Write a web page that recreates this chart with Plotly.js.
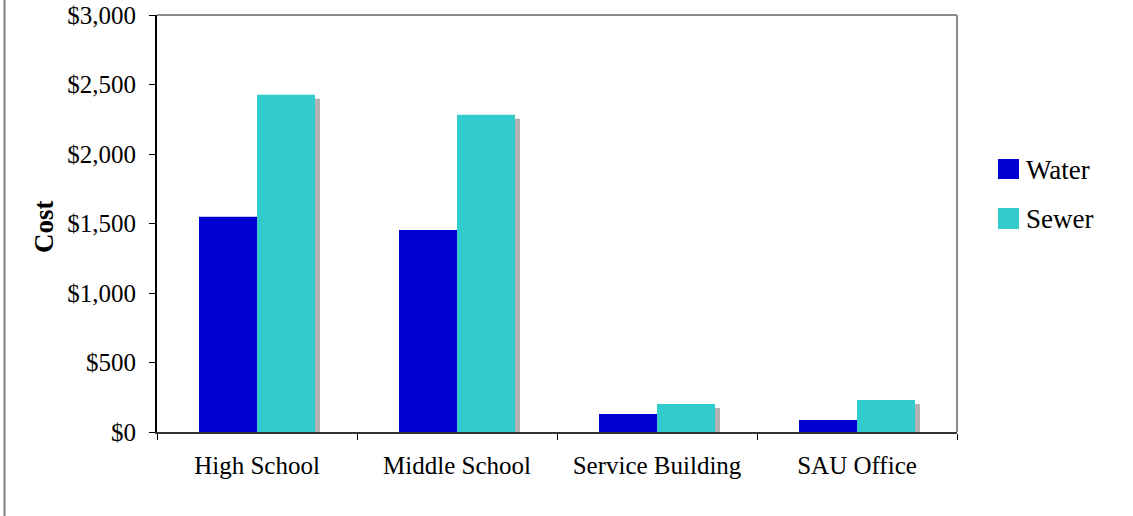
<!DOCTYPE html>
<html>
<head>
<meta charset="utf-8">
<script src="https://cdn.plot.ly/plotly-3.0.1.min.js"></script>
<style>html,body{margin:0;padding:0;background:#fff;}#chart{width:1133px;height:516px;}</style>
</head>
<body>
<div id="chart"></div>
<script>
const categories = ["High School", "Middle School", "Service Building", "SAU Office"];
const water = [1548, 1454, 130, 86];
const sewer = [2426, 2282, 202, 230];
const seriesNames = ["Water", "Sewer"];
const yTitle = "Cost";
const yTickVals = [0, 500, 1000, 1500, 2000, 2500, 3000];
const yTickText = ["$0", "$500", "$1,000", "$1,500", "$2,000", "$2,500", "$3,000"];

const waterColor = "#0000D0";
const sewerColor = "#33CCCC";
const shadowColor = "#B3B3B3";
const font = "Liberation Serif, Times New Roman, serif";

const barW = 0.29;
const shadowDX = 0.025;
const shadowDY = -29;

const traces = [
  {type: "bar", x: categories, y: sewer, base: shadowDY, offset: shadowDX, width: barW,
   marker: {color: shadowColor}, showlegend: false, hoverinfo: "skip"},
  {type: "bar", name: seriesNames[0], x: categories, y: water, offset: -barW, width: barW,
   marker: {color: waterColor}, showlegend: false},
  {type: "bar", name: seriesNames[1], x: categories, y: sewer, offset: 0, width: barW,
   marker: {color: sewerColor}, showlegend: false}
];

function py(p){ return (432 - p) / 417; }
function px(p){ return (p - 157) / 800; }

const layout = {
  width: 1133, height: 516,
  margin: {l: 157, r: 176, t: 15, b: 84, pad: 0},
  paper_bgcolor: "#fff", plot_bgcolor: "#fff",
  barmode: "overlay",
  showlegend: false,
  font: {family: font, size: 25, color: "#000"},
  xaxis: {
    type: "category", range: [-0.5, 3.5], showgrid: false, zeroline: false,
    showline: true, linecolor: "#333", linewidth: 2,
    ticks: "outside", tickson: "boundaries", ticklen: 6, tickcolor: "#000", tickwidth: 1,
    ticklabelstandoff: 10,
    tickfont: {family: font, size: 25, color: "#000"}
  },
  yaxis: {
    range: [0, 3000], showgrid: false, zeroline: false,
    showline: true, linecolor: "#000", linewidth: 2,
    ticks: "outside", ticklen: 6, tickcolor: "#000", tickwidth: 1,
    ticklabelstandoff: 8,
    tickvals: yTickVals, ticktext: yTickText,
    tickfont: {family: font, size: 25, color: "#000"}
  },
  shapes: [
    {type: "line", xref: "paper", yref: "paper", x0: 0, x1: 1, y0: 1, y1: 1, line: {color: "#8C8C8C", width: 2}},
    {type: "line", xref: "paper", yref: "paper", x0: 1, x1: 1, y0: 0, y1: 1, line: {color: "#8C8C8C", width: 2}},
    {type: "line", xref: "paper", yref: "paper", x0: px(4.5), x1: px(4.5), y0: py(-5), y1: py(520), line: {color: "#808080", width: 2}},
    {type: "rect", xref: "paper", yref: "paper", x0: px(998), x1: px(1019), y0: py(179), y1: py(159), fillcolor: waterColor, line: {width: 0}},
    {type: "rect", xref: "paper", yref: "paper", x0: px(998), x1: px(1019), y0: py(229), y1: py(208), fillcolor: sewerColor, line: {width: 0}}
  ],
  annotations: [
    {xref: "paper", yref: "paper", x: px(1024), y: py(170), xanchor: "left", yanchor: "middle", showarrow: false,
     text: seriesNames[0], font: {family: font, size: 27, color: "#000"}},
    {xref: "paper", yref: "paper", x: px(1024), y: py(219), xanchor: "left", yanchor: "middle", showarrow: false,
     text: seriesNames[1], font: {family: font, size: 27, color: "#000"}},
    {xref: "paper", yref: "paper", x: px(44), y: py(227), xanchor: "center", yanchor: "middle", showarrow: false,
     textangle: -90, text: "<b>" + yTitle + "</b>", font: {family: font, size: 27, color: "#000"}}
  ]
};

Plotly.newPlot("chart", traces, layout, {displayModeBar: false, staticPlot: true});
</script>
</body>
</html>
